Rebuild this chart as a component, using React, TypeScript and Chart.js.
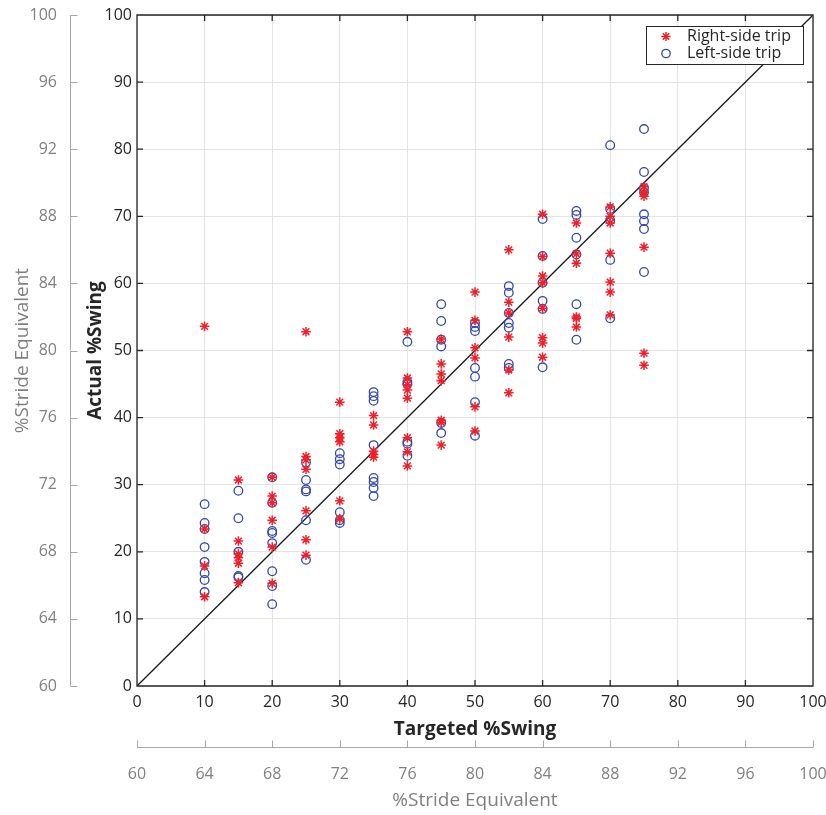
import React, { useEffect, useRef } from 'react';
import { Chart, registerables } from 'chart.js';

Chart.register(...registerables);

const FONT = "'Open Sans', 'DejaVu Sans', sans-serif";

// Targeted %Swing levels (x positions of the point columns)
const targetedSwing = [10, 15, 20, 25, 30, 35, 40, 45, 50, 55, 60, 65, 70, 75];

// Actual %Swing, right-side trips (one list per targeted level)
const rightSideActual = [
  [53.6, 23.4, 17.9, 13.3],
  [30.7, 21.6, 19.7, 19.1, 18.3, 15.4],
  [31.1, 28.3, 27.3, 24.7, 20.7, 15.3],
  [52.8, 34.2, 33.7, 32.3, 26.1, 21.8, 19.5],
  [42.3, 37.6, 37.0, 36.4, 27.6, 24.9],
  [40.3, 38.9, 35.0, 34.5, 34.1],
  [52.8, 45.9, 44.9, 44.1, 42.9, 37.0, 34.9, 32.8],
  [51.7, 48.0, 46.5, 45.5, 39.6, 39.3, 35.9],
  [58.7, 54.5, 50.4, 48.9, 41.6, 38.0],
  [65.0, 57.2, 55.6, 52.0, 47.1, 43.7],
  [70.3, 64.0, 61.1, 60.1, 56.3, 51.9, 51.1, 49.0],
  [69.0, 64.4, 63.0, 55.0, 54.8, 53.5],
  [71.4, 70.0, 69.0, 64.5, 60.2, 58.7, 55.3],
  [74.4, 73.6, 73.0, 65.4, 49.6, 47.8],
];

// Actual %Swing, left-side trips
const leftSideActual = [
  [27.1, 24.3, 23.4, 20.7, 18.5, 16.8, 15.8, 14.0],
  [29.1, 25.0, 20.0, 16.4, 16.2],
  [31.1, 27.3, 23.1, 22.8, 21.3, 17.1, 14.9, 12.2],
  [33.3, 30.7, 29.3, 29.0, 24.7, 18.8],
  [34.7, 33.8, 33.0, 25.9, 24.7, 24.3],
  [43.8, 43.2, 42.5, 35.9, 31.0, 30.4, 29.5, 28.3],
  [51.3, 45.3, 45.0, 36.4, 36.1, 34.3],
  [56.9, 54.4, 51.6, 50.6, 39.2, 37.7],
  [54.1, 53.5, 52.9, 47.4, 46.1, 42.3, 37.3],
  [59.6, 58.6, 55.6, 54.1, 53.4, 48.0, 47.4],
  [69.6, 64.1, 60.1, 57.4, 56.2, 47.5],
  [70.8, 70.2, 66.8, 64.3, 56.9, 51.6],
  [80.6, 71.1, 69.4, 63.5, 54.8],
  [83.0, 76.6, 74.2, 73.6, 70.3, 69.3, 68.1, 61.7],
];

// Identity line endpoints
const identityLine = [0, 100];

// Tick labels
const swingTicks = [0, 10, 20, 30, 40, 50, 60, 70, 80, 90, 100];
const strideTicks = [60, 64, 68, 72, 76, 80, 84, 88, 92, 96, 100];

const legendLabels = ['Right-side trip', 'Left-side trip'];

const RED = 'rgb(240, 32, 42)';
const BLUE = 'rgb(52, 72, 168)';
const DARK = '#262626';
const GRAY = '#808080';
const AXIS_GRAY = '#a8a8a8';

function toPoints(levels: number[], values: number[][]) {
  const pts: { x: number; y: number }[] = [];
  levels.forEach((x, i) => values[i].forEach((y) => pts.push({ x, y })));
  return pts;
}

const decorPlugin = {
  id: 'decor',
  afterDatasetsDraw(chart: any) {
    const { ctx, chartArea: a, scales } = chart;
    const L = 6;
    ctx.save();
    // secondary left axis
    const y2 = scales.y2;
    const ax = Math.round(y2.right) + 0.5;
    ctx.strokeStyle = AXIS_GRAY;
    ctx.lineWidth = 1;
    ctx.beginPath();
    ctx.moveTo(ax, a.top);
    ctx.lineTo(ax, a.bottom);
    y2.ticks.forEach((t: any) => {
      const py = Math.round(y2.getPixelForValue(t.value)) + 0.5;
      ctx.moveTo(ax, py);
      ctx.lineTo(ax + 7, py);
    });
    ctx.stroke();
    // secondary bottom axis
    const x2 = scales.x2;
    const ay = Math.round(x2.top) + 0.5;
    ctx.beginPath();
    ctx.moveTo(a.left, ay);
    ctx.lineTo(a.right, ay);
    x2.ticks.forEach((t: any) => {
      const px = Math.round(x2.getPixelForValue(t.value)) + 0.5;
      ctx.moveTo(px, ay);
      ctx.lineTo(px, ay - 7);
    });
    ctx.stroke();

    // main box + inward ticks
    ctx.strokeStyle = DARK;
    ctx.lineWidth = 1.3;
    ctx.beginPath();
    ctx.rect(a.left, a.top, a.right - a.left, a.bottom - a.top);
    const xs = scales.x;
    const ys = scales.y;
    xs.ticks.forEach((t: any) => {
      const px = xs.getPixelForValue(t.value);
      ctx.moveTo(px, a.bottom);
      ctx.lineTo(px, a.bottom - L);
      ctx.moveTo(px, a.top);
      ctx.lineTo(px, a.top + L);
    });
    ys.ticks.forEach((t: any) => {
      const py = ys.getPixelForValue(t.value);
      ctx.moveTo(a.left, py);
      ctx.lineTo(a.left + L, py);
      ctx.moveTo(a.right, py);
      ctx.lineTo(a.right - L, py);
    });
    ctx.stroke();
    ctx.restore();
  },
  afterDraw(chart: any) {
    const { ctx, chartArea: a } = chart;
    ctx.save();
    const bx = a.right - 167;
    const by = a.top + 11;
    const bw = 157;
    const bh = 38;
    ctx.fillStyle = '#ffffff';
    ctx.fillRect(bx, by, bw, bh);
    ctx.strokeStyle = DARK;
    ctx.lineWidth = 1;
    ctx.strokeRect(Math.round(bx) + 0.5, Math.round(by) + 0.5, bw, bh);
    const mx = bx + 20;
    const rows = [by + 10.5, by + 27.5];
    // star marker
    ctx.strokeStyle = RED;
    ctx.lineWidth = 1.5;
    const r = 4.6;
    ctx.beginPath();
    for (let k = 0; k < 4; k++) {
      const ang = (k * Math.PI) / 4;
      ctx.moveTo(mx - r * Math.cos(ang), rows[0] - r * Math.sin(ang));
      ctx.lineTo(mx + r * Math.cos(ang), rows[0] + r * Math.sin(ang));
    }
    ctx.stroke();
    // circle marker
    ctx.strokeStyle = BLUE;
    ctx.lineWidth = 1.3;
    ctx.beginPath();
    ctx.arc(mx, rows[1], 4.2, 0, Math.PI * 2);
    ctx.stroke();
    ctx.fillStyle = DARK;
    ctx.font = `16px ${FONT}`;
    ctx.textBaseline = 'middle';
    ctx.textAlign = 'left';
    ctx.fillText(legendLabels[0], bx + 41, rows[0]);
    ctx.fillText(legendLabels[1], bx + 41, rows[1]);
    ctx.restore();
  },
};

export default function App() {
  const ref = useRef<HTMLCanvasElement>(null);

  useEffect(() => {
    const canvas = ref.current;
    if (!canvas) return;
    const chart = new Chart(canvas, {
      type: 'scatter',
      data: {
        datasets: [
          {
            label: legendLabels[0],
            data: toPoints(targetedSwing, rightSideActual),
            pointStyle: 'star',
            pointRadius: 4.8,
            pointHoverRadius: 4.8,
            borderColor: RED,
            backgroundColor: RED,
            pointBorderWidth: 1.5,
            xAxisID: 'x',
            yAxisID: 'y',
          },
          {
            label: legendLabels[1],
            data: toPoints(targetedSwing, leftSideActual),
            pointStyle: 'circle',
            pointRadius: 4.3,
            pointHoverRadius: 4.3,
            borderColor: BLUE,
            backgroundColor: 'rgba(0,0,0,0)',
            pointBorderWidth: 1.3,
            xAxisID: 'x',
            yAxisID: 'y',
          },
          {
            label: 'identity',
            data: identityLine.map((v) => ({ x: v, y: v })),
            showLine: true,
            pointRadius: 0,
            borderColor: '#1a1a1a',
            borderWidth: 1.3,
            xAxisID: 'x',
            yAxisID: 'y',
          } as any,
        ],
      },
      options: {
        animation: false,
        responsive: false,
        devicePixelRatio: 1,
        events: [],
        layout: { padding: { top: 15, right: 13, left: 0, bottom: 0 } },
        plugins: { legend: { display: false }, tooltip: { enabled: false } },
        scales: {
          x: {
            type: 'linear',
            position: 'bottom',
            weight: 0,
            min: 0,
            max: 100,
            afterBuildTicks: (s: any) => {
              s.ticks = swingTicks.map((v) => ({ value: v }));
            },
            afterFit: (s: any) => {
              s.height = 61;
              s.paddingLeft = 0;
              s.paddingRight = 0;
            },
            grid: { color: '#e4e4e4', lineWidth: 1, drawTicks: false },
            border: { display: false },
            ticks: {
              padding: 7,
              color: DARK,
              maxRotation: 0,
              autoSkip: false,
              font: { size: 16, family: FONT },
            },
            title: {
              display: true,
              text: 'Targeted %Swing',
              color: DARK,
              font: { size: 19, weight: 'bold', family: FONT },
              padding: { top: 0, bottom: 6 },
            },
          },
          x2: {
            type: 'linear',
            position: 'bottom',
            weight: 1,
            min: 60,
            max: 100,
            afterBuildTicks: (s: any) => {
              s.ticks = strideTicks.map((v) => ({ value: v }));
            },
            afterFit: (s: any) => {
              s.height = 68;
              s.paddingLeft = 0;
              s.paddingRight = 0;
            },
            grid: { display: false, drawTicks: false },
            border: { display: false },
            ticks: {
              padding: 18,
              color: GRAY,
              maxRotation: 0,
              autoSkip: false,
              font: { size: 16, family: FONT },
            },
            title: {
              display: true,
              text: '%Stride Equivalent',
              color: GRAY,
              font: { size: 19, family: FONT },
              padding: { top: 0, bottom: 3 },
            },
          },
          y: {
            type: 'linear',
            position: 'left',
            weight: 0,
            min: 0,
            max: 100,
            afterBuildTicks: (s: any) => {
              s.ticks = swingTicks.map((v) => ({ value: v }));
            },
            afterFit: (s: any) => {
              s.width = 67;
              s.paddingTop = 0;
              s.paddingBottom = 0;
            },
            grid: { color: '#e4e4e4', lineWidth: 1, drawTicks: false },
            border: { display: false },
            ticks: {
              padding: 5,
              color: DARK,
              autoSkip: false,
              font: { size: 16, family: FONT },
            },
            title: {
              display: true,
              text: 'Actual %Swing',
              color: DARK,
              font: { size: 19, weight: 'bold', family: FONT },
              padding: { top: 14, bottom: 0 },
            },
          },
          y2: {
            type: 'linear',
            position: 'left',
            weight: 1,
            min: 60,
            max: 100,
            afterBuildTicks: (s: any) => {
              s.ticks = strideTicks.map((v) => ({ value: v }));
            },
            afterFit: (s: any) => {
              s.width = 70;
              s.paddingTop = 0;
              s.paddingBottom = 0;
            },
            grid: { display: false, drawTicks: false },
            border: { display: false },
            ticks: {
              padding: 13,
              color: GRAY,
              autoSkip: false,
              font: { size: 16, family: FONT },
            },
            title: {
              display: true,
              text: '%Stride Equivalent',
              color: GRAY,
              font: { size: 19, family: FONT },
              padding: { top: 11, bottom: 0 },
            },
          },
        },
      } as any,
      plugins: [decorPlugin],
    });
    return () => chart.destroy();
  }, []);

  return (
    <div
      style={{
        position: 'fixed',
        left: 0,
        top: 0,
        width: 826,
        height: 815,
        background: '#ffffff',
      }}
    >
      <canvas
        ref={ref}
        width={826}
        height={815}
        style={{ width: 826, height: 815, display: 'block' }}
      />
    </div>
  );
}
